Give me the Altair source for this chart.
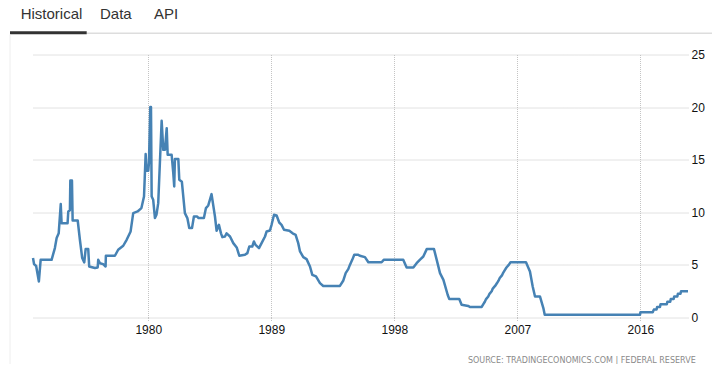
import altair as alt
import pandas as pd

years = [1971.57, 1971.65, 1971.8, 1972.0, 1972.13, 1972.93, 1973.17, 1973.3, 1973.45, 1973.6,
         1973.66, 1974.1, 1974.15, 1974.27, 1974.3, 1974.42, 1974.47, 1974.84, 1975.0, 1975.17,
         1975.32, 1975.42, 1975.61, 1975.68, 1976.1, 1976.3, 1976.34, 1976.47, 1976.7, 1976.88,
         1976.9, 1977.56, 1977.8, 1978.17, 1978.42, 1978.71, 1978.9, 1979.22, 1979.5, 1979.69,
         1979.81, 1979.88, 1980.0, 1980.05, 1980.15, 1980.2, 1980.25, 1980.36, 1980.49, 1980.6,
         1980.73, 1980.8, 1980.98, 1981.1, 1981.22, 1981.35, 1981.42, 1981.71, 1981.83, 1981.9,
         1981.95, 1982.2, 1982.27, 1982.46, 1982.68, 1982.86, 1983.0, 1983.2, 1983.34, 1983.58,
         1983.68, 1984.07, 1984.22, 1984.39, 1984.63, 1984.88, 1985.0, 1985.17, 1985.32, 1985.42,
         1985.61, 1985.73, 1985.98, 1986.22, 1986.47, 1986.66, 1987.07, 1987.25, 1987.39, 1987.61,
         1987.73, 1987.85, 1988.1, 1988.29, 1988.54, 1988.66, 1988.9, 1989.02, 1989.2, 1989.39,
         1989.58, 1989.75, 1989.93, 1990.32, 1990.56, 1990.78, 1990.97, 1991.1, 1991.34, 1991.58,
         1991.83, 1992.0, 1992.27, 1992.56, 1992.8, 1994.02, 1994.27, 1994.44, 1994.63, 1994.75,
         1994.92, 1995.07, 1995.36, 1995.48, 1995.85, 1996.1, 1997.07, 1997.24, 1998.65, 1998.9,
         1999.39, 1999.63, 1999.88, 2000.12, 2000.37, 2000.9, 2001.1, 2001.34, 2001.59, 2001.9,
         2002.02, 2002.75, 2002.92, 2003.4, 2003.53, 2004.39, 2004.5, 2004.62, 2004.71, 2004.87,
         2004.96, 2005.12, 2005.2, 2005.37, 2005.5, 2005.62, 2005.71, 2005.87, 2005.96, 2006.08,
         2006.2, 2006.37, 2006.5, 2007.63, 2007.92, 2008.12, 2008.29, 2008.65, 2008.9, 2009.0,
         2015.97, 2016.0, 2016.9, 2016.98, 2017.18, 2017.22, 2017.43, 2017.47, 2017.93, 2017.97,
         2018.18, 2018.22, 2018.43, 2018.47, 2018.7, 2018.74, 2018.93, 2018.97, 2019.48]

rates = [5.65, 5.07, 4.9, 3.42, 5.48, 5.48, 6.6, 7.55, 8.0, 10.78,
         8.97, 8.97, 10.08, 10.2, 13.02, 13.02, 9.22, 9.22, 7.39, 5.65,
         5.23, 6.5, 6.5, 4.85, 4.7, 4.75, 5.48, 5.16, 5.07, 4.85,
         5.87, 5.87, 6.44, 6.82, 7.39, 8.18, 9.92, 10.08, 10.4, 11.5,
         15.53, 13.94, 13.94, 14.67, 20.0, 20.0, 11.5, 11.2, 9.45, 9.76,
         10.87, 13.09, 18.7, 15.94, 15.94, 18.0, 15.47, 15.47, 13.72, 12.45,
         15.06, 15.06, 13.09, 12.9, 9.92, 9.45, 8.5, 8.5, 9.6, 9.6,
         9.45, 9.45, 10.4, 10.65, 11.73, 9.6, 8.24, 8.81, 8.0, 7.64,
         7.7, 8.0, 7.7, 7.07, 6.66, 5.87, 5.96, 6.12, 6.75, 6.75,
         7.23, 6.9, 6.6, 7.07, 7.7, 8.18, 8.27, 8.81, 9.76, 9.7,
         9.03, 8.81, 8.34, 8.24, 8.0, 7.86, 7.07, 6.28, 5.74, 5.55,
         4.85, 4.06, 3.9, 3.27, 3.0, 3.0, 3.52, 4.22, 4.6, 5.0,
         5.48, 5.96, 5.96, 5.87, 5.74, 5.25, 5.25, 5.5, 5.5, 4.75,
         4.75, 5.16, 5.5, 5.8, 6.5, 6.5, 5.48, 4.22, 3.58, 2.16,
         1.75, 1.75, 1.21, 1.1, 1.0, 1.0, 1.25, 1.5, 1.75, 2.0,
         2.25, 2.5, 2.75, 3.0, 3.25, 3.5, 3.75, 4.0, 4.25, 4.5,
         4.75, 5.0, 5.25, 5.25, 4.37, 2.95, 2.0, 2.0, 0.9, 0.25,
         0.25, 0.5, 0.5, 0.75, 0.75, 1.0, 1.0, 1.25, 1.25, 1.5,
         1.5, 1.75, 1.75, 2.0, 2.0, 2.25, 2.25, 2.5, 2.5]

x_ticks = [1980, 1989, 1998, 2007, 2016]
y_ticks = [0, 5, 10, 15, 20, 25]
tabs = ["Historical", "Data", "API"]
source_text = ["SOURCE:  TRADINGECONOMICS.COM  |  FEDERAL RESERVE"]

df = pd.DataFrame({"year": years, "rate": rates})

W, H = 655, 263

line = alt.Chart(df).mark_line(color="#4682b4", strokeWidth=2.5, strokeJoin="round").encode(
    x=alt.X("year:Q", scale=alt.Scale(domain=[1971.57, 2019.48], nice=False, zero=False),
            axis=alt.Axis(values=x_ticks, format="d", title=None, domain=False,
                          grid=True, gridDash=[1, 1], gridColor="#c4c4c4",
                          ticks=True, tickDash=[1, 1], tickColor="#c4c4c4", tickSize=4,
                          labelPadding=3, labelFontSize=12, labelColor="#111",
                          labelFont="Liberation Sans")),
    y=alt.Y("rate:Q", scale=alt.Scale(domain=[0, 25], nice=False),
            axis=alt.Axis(orient="right", values=y_ticks, title=None, domain=False,
                          grid=True, gridDash=[1, 1], gridColor="#c4c4c4",
                          ticks=False, labelPadding=3, labelFontSize=12, labelColor="#111",
                          labelFont="Liberation Sans")),
)

def one(text):
    return pd.DataFrame({"t": [text]})

tab_x = {"Historical": -12.3, "Data": 67, "API": 121}
tab_layers = [
    alt.Chart(one(t)).mark_text(align="left", baseline="alphabetic", fontSize=15,
                                font="Liberation Sans", color="#333").encode(
        text="t:N", x=alt.value(tab_x[t]), y=alt.value(-36))
    for t in tabs
]

grey_line = alt.Chart(one("g")).mark_rule(color="#dddddd", strokeWidth=1.5).encode(
    x=alt.value(53.7), x2=alt.value(687), y=alt.value(-21.3))
dark_line = alt.Chart(one("d")).mark_rule(color="#333333", strokeWidth=3).encode(
    x=alt.value(-23), x2=alt.value(53.7), y=alt.value(-21.7))
left_line = alt.Chart(one("l")).mark_rule(color="#eeeeee", strokeWidth=1).encode(
    x=alt.value(-23), y=alt.value(-20), y2=alt.value(318))

source = alt.Chart(pd.DataFrame({"t": source_text})).mark_text(
    align="right", baseline="middle", fontSize=8, font="DejaVu Sans", color="#8a8a8a").encode(
    text="t:N", x=alt.value(662.7), y=alt.value(306.2))

chart = alt.layer(line, grey_line, dark_line, left_line, source, *tab_layers).properties(
    width=W, height=H,
    autosize=alt.AutoSizeParams(type="none"),
    padding={"left": 25, "top": 46.5, "right": 24, "bottom": 46.5},
    background="white",
).configure_view(stroke=None)

chart.save("out.html", embed_options={"renderer": "svg", "actions": False})
